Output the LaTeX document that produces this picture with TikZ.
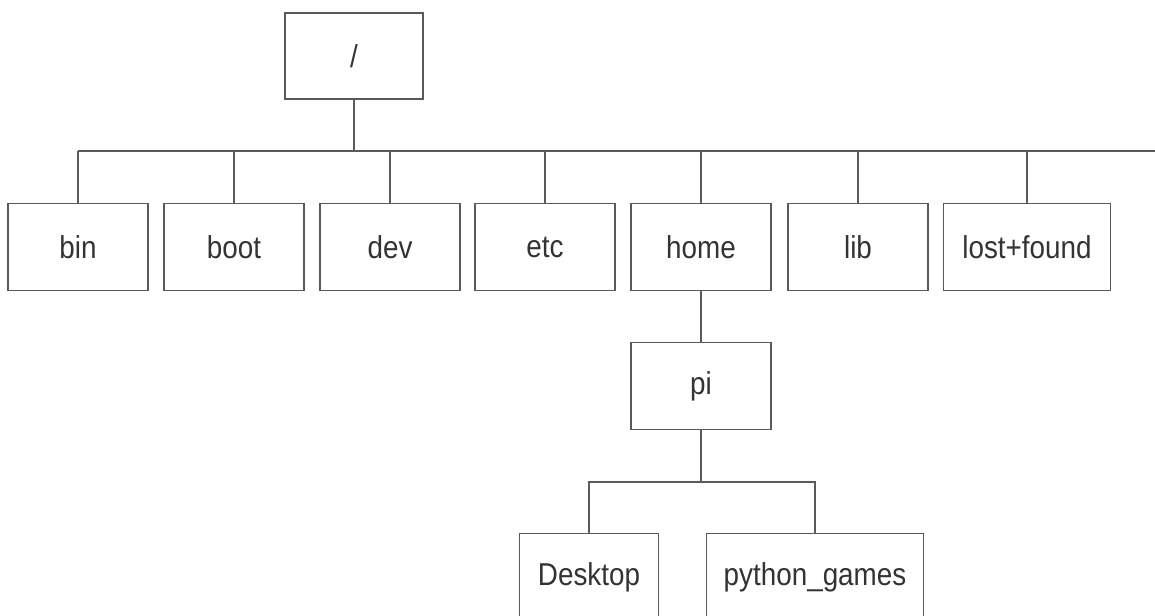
\documentclass[tikz,border=0pt]{standalone}
\usepackage{fontspec}
\setmainfont[FakeStretch=0.88]{Liberation Sans}
\usepackage{tikz}
\usetikzlibrary{positioning}
\definecolor{ink}{HTML}{333333}
\definecolor{rule}{HTML}{5A5A5A}
\tikzset{dir/.style={draw=rule, line width=0.7pt, text=ink, inner sep=0pt,
    minimum width=2.8cm, minimum height=1.74cm, font=\fontsize{18}{20}\selectfont},
  link/.style={draw=rule, line width=0.7pt}}

\begin{document}
\begin{tikzpicture}[x=0.02cm, y=-0.02cm]
  \useasboundingbox (0,0) rectangle (1155,615);
  \clip (0,0) rectangle (1155,615);
  \node[dir, minimum width=2.76cm, minimum height=1.72cm] (root) at (354,56) {/};
  \foreach \nm/\lbl/\cx/\bw in {bin/bin/78/2.8, boot/boot/234/2.8, dev/dev/390/2.8,
      etc/etc/545/2.8, home/home/701/2.8, lib/lib/858/2.8, lost/lost+found/1027/3.34}
    {\node[dir, minimum width=\bw cm] (\nm) at (\cx,247) {\lbl};}
  \node[dir] (pi) at (701,386) {pi};
  \node[dir, minimum width=2.78cm] (desk) at (589,577) {Desktop};
  \node[dir, minimum width=4.34cm] (games) at (815,577) {python\_games};
  % top level bar
  \coordinate (barL) at (78,151);
  \coordinate (barR) at (1160,151);
  \draw[link] (root.south) -- (root.south |- barL);
  \draw[link] (barL) -- (barR);
  \foreach \nm in {bin, boot, dev, etc, home, lib, lost}
    {\draw[link] (\nm.north) -- (\nm.north |- barL);}
  \draw[link] (home) -- (pi);
  % pi bar
  \coordinate (piBar) at (701,482);
  \draw[link] (pi.south) -- (piBar);
  \draw[link] (desk.north) |- (piBar) -| (games.north);
\end{tikzpicture}
\end{document}
